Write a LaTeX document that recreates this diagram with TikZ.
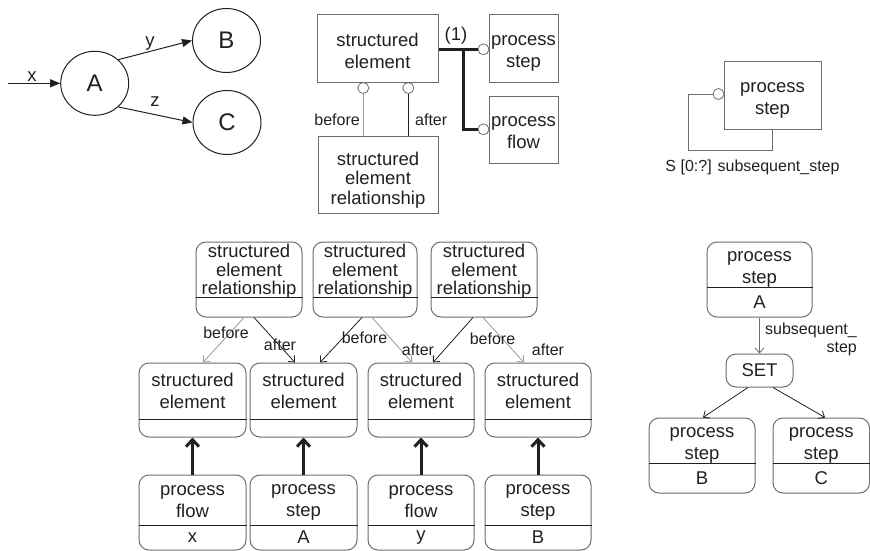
\documentclass[tikz,border=0pt]{standalone}
\usepackage{fontspec}
\setmainfont{Liberation Sans}
\usetikzlibrary{arrows.meta,shapes.geometric}
\definecolor{ink}{HTML}{231F20}
\definecolor{frame}{HTML}{6D6D6D}
\definecolor{soft}{HTML}{9A9A9A}

% rounded box with a divider: name, x-left, x-right, y-top, y-bottom, y-divider, text style, upper text, lower text
\newcommand\splitbox[9]{%
  \node[plate, minimum width={#3-#2}, minimum height={#5-#4}] (#1) at ({(#2+#3)/2},{(#4+#5)/2}) {};
  \draw[ink, line width=1pt] (#1.west |- 0,#6) -- (#1.east |- 0,#6);
  \node[#7] (#1-up) at ({(#2+#3)/2},{(#4+#6)/2}) {#8};
  \node[words] (#1-low) at ({(#2+#3)/2},{(#6+#5)/2}) {#9};
}

\begin{document}
\begin{tikzpicture}[x=1pt,y=-1pt,
  every node/.style={text=ink},
  state/.style={ellipse, draw=ink, line width=1pt, minimum width=68pt, minimum height=64pt, inner sep=0pt, font=\fontsize{24}{24}\selectfont},
  flat/.style={draw=frame, line width=1pt, inner sep=0pt, align=center, font=\fontsize{18.5}{22}\selectfont},
  plate/.style={draw=frame, line width=1pt, rounded corners=10pt, inner sep=0pt},
  words/.style={inner sep=0pt, align=center, font=\fontsize{18.5}{22}\selectfont},
  tight/.style={inner sep=0pt, align=center, font=\fontsize{18.5}{18.3}\selectfont},
  small/.style={inner sep=0pt, font=\fontsize{16}{18}\selectfont},
  lolly/.style={circle, draw=frame, fill=white, line width=0.8pt, minimum size=11pt, inner sep=0pt},
  trans/.style={draw=ink, line width=1pt, -{Triangle[length=10pt,width=8pt]}},
  rel/.style={line width=0.8pt, -{Straight Barb[length=5pt,width=9pt]}},
  heavy/.style={draw=ink, line width=3pt, -{Straight Barb[length=7pt,width=13pt]}},
]
\useasboundingbox (0,0) rectangle (870,551);

% --- state machine ---
\node[state] (A) at (94.7,83.3) {A};
\node[state] (B) at (226.5,40.5) {B};
\node[state] (C) at (227,122.5) {C};
\coordinate (in) at (8,83.3);
\draw[trans] (in) -- (A.west);
\draw[trans] (A.45) -- (B.west);
\draw[trans] (A.-45) -- (C.west);
\node[words] (lx) at (32,77) {x};
\node[words] (ly) at (150,44) {y};
\node[words] (lz) at (155,102) {z};

% --- schema with relationship entity ---
\node[flat, minimum width=121pt, minimum height=67pt] (se) at (377.5,48.5) {};
\node[words] (se-t) at (377.5,50.5) {structured\\element};
\node[flat, minimum width=120pt, minimum height=77pt] (ser) at (378,174.5) {};
\node[words, font=\fontsize{18.5}{19.3}\selectfont] (ser-t) at (378,180) {structured\\element\\relationship};
\node[flat, minimum width=69pt, minimum height=67pt] (ps) at (523.5,48.5) {};
\node[words] (ps-t) at (523.5,53.5) {process\\step};
\node[flat, minimum width=69pt, minimum height=67pt] (pf) at (523.5,129.5) {};
\node[words] (pf-t) at (523.5,133) {process\\flow};
\node[lolly] (o1) at (483.5,49.3) {};
\node[lolly] (o2) at (483.5,129.3) {};
\coordinate (fork) at (463.5,49.3);
\draw[ink, line width=3pt] (o1 -| se.east) -- (o1.west);
\draw[ink, line width=3pt] (fork) |- (o2.west);
\node[words] (one) at (456,36) {(1)};
\node[lolly] (o3) at (363.3,88) {};
\node[lolly] (o4) at (408.3,88) {};
\draw[soft, line width=1pt] (o3.south) -- (o3.south |- ser.north);
\draw[ink, line width=1pt] (o4.south) -- (o4.south |- ser.north);
\node[small, anchor=east] (lbefore) at (360,120) {before};
\node[small, anchor=west] (lafter) at (415,120) {after};

% --- self reference ---
\node[flat, minimum width=97pt, minimum height=67pt] (ps2) at (772.5,95.5) {};
\node[words] (ps2-t) at (772.5,100.5) {process\\step};
\node[lolly] (o5) at (718.5,94) {};
\coordinate (loop) at (688,150);
\draw[frame, line width=1pt] (o5.west) -| (loop) -| (ps2.south);
\node[small] (card) at (752.5,167) {S [0:?] subsequent\_step};

% --- instance chain ---
\splitbox{ser1}{196}{302}{242}{317}{297}{tight,yshift=-2pt}{structured\\element\\relationship}{}
\splitbox{ser2}{313}{417}{242}{317}{297}{tight,yshift=-2pt}{structured\\element\\relationship}{}
\splitbox{ser3}{431}{537}{242}{317}{297}{tight,yshift=-2pt}{structured\\element\\relationship}{}
\splitbox{se1}{139}{246}{363}{437}{419}{words}{structured\\element}{}
\splitbox{se2}{250}{357}{363}{437}{419}{words}{structured\\element}{}
\splitbox{se3}{368}{474}{363}{437}{419}{words}{structured\\element}{}
\splitbox{se4}{485}{591}{363}{437}{419}{words}{structured\\element}{}
\splitbox{pf1}{139}{246}{475}{550}{525}{words,yshift=-2pt}{process\\flow}{x}
\splitbox{ps1}{250}{357}{475}{550}{525}{words,yshift=-2pt}{process\\step}{A}
\splitbox{pf2}{368}{474}{475}{550}{525}{words,yshift=-2pt}{process\\flow}{y}
\splitbox{ps3}{485}{591}{475}{550}{525}{words,yshift=-2pt}{process\\step}{B}

\draw[heavy] (pf1.north) -- (se1.south);
\draw[heavy] (ps1.north) -- (se2.south);
\draw[heavy] (pf2.north) -- (se3.south);
\draw[heavy] (ps3.north) -- (se4.south);

\draw[rel, soft] ([xshift=-5pt]ser1.south) -- ([xshift=10.5pt]se1.north);
\draw[rel, ink]  ([xshift=5pt]ser1.south) -- ([xshift=-8.5pt]se2.north);
\draw[rel, ink]  ([xshift=-3pt]ser2.south) -- ([xshift=16.5pt]se2.north);
\draw[rel, soft] ([xshift=7pt]ser2.south) -- ([xshift=-9pt]se3.north);
\draw[rel, ink]  ([xshift=-11pt]ser3.south) -- ([xshift=12pt]se3.north);
\draw[rel, soft] ([xshift=-1pt]ser3.south) -- ([xshift=-14pt]se4.north);
\node[small] (b1) at (226,333) {before};
\node[small] (a1) at (280,345) {after};
\node[small] (b2) at (364.5,338) {before};
\node[small] (a2) at (418,350) {after};
\node[small] (b3) at (492.5,338.5) {before};
\node[small] (a3) at (548,349.5) {after};

% --- set of subsequent steps ---
\splitbox{pa}{707}{812}{242}{317}{287}{words,yshift=-5pt}{process\\step}{A}
\node[plate, words, minimum width=67pt, minimum height=33pt] (set) at (759.5,370.5) {SET};
\splitbox{pb}{649}{755}{418}{493}{463}{words,yshift=-5pt}{process\\step}{B}
\splitbox{pc}{773}{869.5}{418}{493}{463}{words,yshift=-5pt}{process\\step}{C}
\draw[rel, frame] (pa.south) -- (set.north);
\draw[rel, ink] ([xshift=-11.5pt]set.south) -- ([xshift=1pt]pb.north);
\draw[rel, ink] ([xshift=13.5pt]set.south) -- ([xshift=3.75pt]pc.north);
\node[small, align=right, anchor=east] (sub) at (857,339) {subsequent\_\\step};
\end{tikzpicture}
\end{document}
